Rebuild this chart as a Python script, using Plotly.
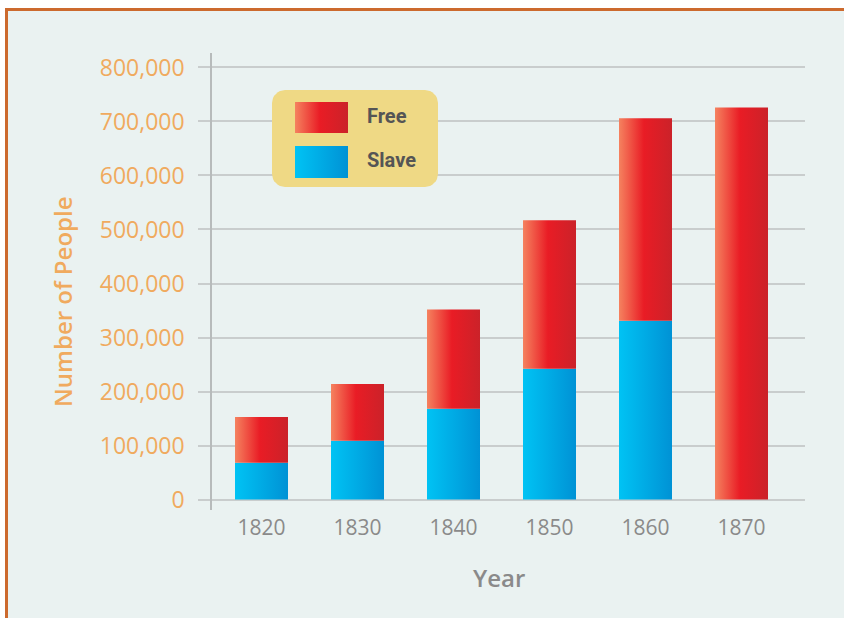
import math
import plotly.graph_objects as go

# ---- data ----
years = [1820, 1830, 1840, 1850, 1860, 1870]
year_labels = ["1820", "1830", "1840", "1850", "1860", "1870"]
slave = [68000, 109000, 168000, 242000, 331000, 0]
free = [85000, 105000, 184000, 275000, 375000, 726000]
y_ticks = [0, 100000, 200000, 300000, 400000, 500000, 600000, 700000, 800000]
y_tick_labels = ["0", "100,000", "200,000", "300,000", "400,000",
                 "500,000", "600,000", "700,000", "800,000"]
series_names = ["Free", "Slave"]

# ---- styles ----
W, H = 844, 618
L, R, T, B = 212, 805, 53, 510    # plot area in window pixels
BAR_W = 5.52
RED_SCALE = [[0, "#f5825f"], [0.47, "#e91c25"], [1, "#cb2229"]]
BLUE_SCALE = [[0, "#00c3f4"], [1, "#0092d5"]]
ORANGE = "#f0aa5e"
GRAY = "#8a8a8a"
GRID = "#c9cdcd"

def px_x(p):
    return (p - L) / (R - L)

def px_y(p):
    return (B - p) / (B - T)

fig = go.Figure()

def bar_poly(xc, y0, y1, scale, name):
    xs = [xc - BAR_W / 2, xc + BAR_W / 2, xc + BAR_W / 2, xc - BAR_W / 2, xc - BAR_W / 2]
    ys = [y0, y0, y1, y1, y0]
    fig.add_trace(go.Scatter(
        x=xs, y=ys, mode="lines", fill="toself",
        line=dict(width=0, color="rgba(0,0,0,0)"),
        fillgradient=dict(type="horizontal", colorscale=scale),
        showlegend=False, name=name, hoverinfo="skip"))

for yr, s, f in zip(years, slave, free):
    if s > 0:
        bar_poly(yr, 0, s, BLUE_SCALE, "Slave")
    if f > 0:
        bar_poly(yr, s, s + f, RED_SCALE, "Free")

# ---- legend box (pixel-coordinate overlay axes) ----
def rounded_rect(x0, y0, x1, y1, r, n=8):
    pts = []
    corners = [(x1 - r, y0 + r, -90, 0), (x1 - r, y1 - r, 0, 90),
               (x0 + r, y1 - r, 90, 180), (x0 + r, y0 + r, 180, 270)]
    for cx, cy, a0, a1 in corners:
        for i in range(n + 1):
            a = math.radians(a0 + (a1 - a0) * i / n)
            pts.append((cx + r * math.cos(a), cy + r * math.sin(a)))
    pts.append(pts[0])
    return [p[0] for p in pts], [p[1] for p in pts]

bx, by = rounded_rect(272, 90, 438, 187, 13)
fig.add_trace(go.Scatter(x=bx, y=by, xaxis="x2", yaxis="y2", mode="lines",
                         fill="toself", fillcolor="#efd985",
                         line=dict(width=0, color="rgba(0,0,0,0)"),
                         showlegend=False, hoverinfo="skip"))

swatches = [(102, 133, RED_SCALE), (146, 178, BLUE_SCALE)]
for (y0, y1, sc) in swatches:
    fig.add_trace(go.Scatter(x=[295, 348, 348, 295, 295], y=[y0, y0, y1, y1, y0],
                             xaxis="x2", yaxis="y2", mode="lines", fill="toself",
                             line=dict(width=0, color="rgba(0,0,0,0)"),
                             fillgradient=dict(type="horizontal", colorscale=sc),
                             showlegend=False, hoverinfo="skip"))

annotations = []
for name, yc in zip(series_names, [116, 160]):
    annotations.append(dict(
        text=name, x=365, y=yc, xref="x2", yref="y2", xanchor="left",
        yanchor="middle", showarrow=False,
        font=dict(family="Liberation Sans Narrow, Roboto, sans-serif",
                  size=20, color="#555555", weight="bold")))

annotations.append(dict(
    text="Number of People", x=px_x(62), y=px_y(302), xref="paper", yref="paper",
    xanchor="center", yanchor="middle", textangle=-90, showarrow=False,
    font=dict(family="Open Sans", size=24, color=ORANGE, weight=600)))
annotations.append(dict(
    text="Year", x=px_x(499), y=px_y(577), xref="paper", yref="paper",
    xanchor="center", yanchor="middle", showarrow=False,
    font=dict(family="Open Sans", size=24, color=GRAY, weight=600)))

shapes = [dict(type="rect", xref="paper", yref="paper",
               x0=px_x(6.5), y0=px_y(9.5), x1=px_x(870), y1=px_y(650),
               fillcolor="#eaf2f1", line=dict(color="#cc6a2e", width=3),
               layer="below")]

x0 = 1820 - 49.5 / 9.6
x1 = x0 + (R - L) / 9.6
y0 = -(10.5 / 433) * 800000
y1 = 800000 + (67.5 - T) / 433 * 800000

fig.update_layout(
    width=W, height=H,
    margin=dict(l=L, r=W - R, t=T, b=H - B, pad=0),
    paper_bgcolor="white", plot_bgcolor="rgba(0,0,0,0)",
    showlegend=False,
    annotations=annotations, shapes=shapes,
    xaxis=dict(range=[x0, x1], tickvals=years, ticktext=year_labels,
               showgrid=False, showline=False, zeroline=False, ticks="",
               ticklabelstandoff=3,
               tickfont=dict(family="Open Sans", size=21, color=GRAY),
               fixedrange=True),
    yaxis=dict(range=[y0, y1], tickvals=y_ticks, ticktext=y_tick_labels,
               showgrid=True, gridcolor=GRID, gridwidth=2,
               showline=True, linecolor="#b7bbbb", linewidth=1.5,
               zeroline=False, ticks="outside", ticklen=12, tickwidth=2,
               tickcolor=GRID, ticklabelstandoff=9,
               tickfont=dict(family="Open Sans", size=23, color=ORANGE),
               fixedrange=True),
    xaxis2=dict(range=[L, R], overlaying="x", visible=False, fixedrange=True),
    yaxis2=dict(range=[B, T], overlaying="y", visible=False, fixedrange=True),
)

fig.write_html(
    "out.html",
    config={"displayModeBar": False},
    post_script="document.body.style.margin='0';document.body.style.overflow='hidden';",
)
